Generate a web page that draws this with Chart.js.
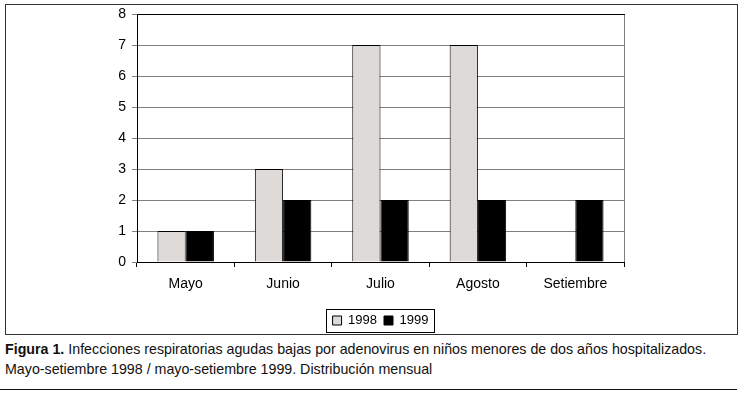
<!DOCTYPE html>
<html>
<head>
<meta charset="utf-8">
<script src="https://cdn.jsdelivr.net/npm/chart.js@4"></script>
<style>
  body { margin: 0; background: #fff; width: 746px; height: 394px; position: relative; overflow: hidden; }
  #marco { position: absolute; left: 5px; top: 4px; width: 731px; height: 329px; border: 1px solid #333; }
  #marco canvas { display: block; }
  #pie { position: absolute; left: 5px; top: 339px; font-family: "Liberation Sans", Arial, sans-serif; font-size: 15px; line-height: 20px; color: #111; white-space: nowrap; transform: scaleX(0.949); transform-origin: 0 0; }
  #linea { position: absolute; left: 0; top: 389px; width: 737px; height: 0; border-top: 1.5px solid #111; }
</style>
</head>
<body>
<div id="marco"><canvas id="grafico" width="731" height="329"></canvas></div>
<div id="pie"><b>Figura 1.</b> Infecciones respiratorias agudas bajas por adenovirus en niños menores de dos años hospitalizados.<br>Mayo-setiembre 1998 / mayo-setiembre 1999. Distribución mensual</div>
<div id="linea"></div>
<script>
// Datos
const meses = ['Mayo', 'Junio', 'Julio', 'Agosto', 'Setiembre'];
const casos1998 = [1, 3, 7, 7, 0];
const casos1999 = [1, 2, 2, 2, 2];

// borde derecho/superior del area y recuadro de la leyenda
const marcos = {
    id: 'marcos',
    afterDraw(chart) {
        const ctx = chart.ctx;
        const a = chart.chartArea;
        ctx.save();
        ctx.lineWidth = 1;
        ctx.strokeStyle = '#808080';
        ctx.beginPath();
        ctx.moveTo(a.right + 0.5, a.top);
        ctx.lineTo(a.right + 0.5, a.bottom);
        ctx.stroke();
        ctx.strokeStyle = '#000';
        ctx.beginPath();
        ctx.moveTo(a.left, a.top + 0.5);
        ctx.lineTo(a.right + 1, a.top + 0.5);
        ctx.stroke();
        const cajas = chart.legend.legendHitBoxes;
        const izq = cajas[0].left - 7;
        const der = cajas[cajas.length - 1].left + cajas[cajas.length - 1].width + 5;
        const cy = cajas[0].top + cajas[0].height / 2;
        ctx.strokeRect(Math.round(izq) + 0.5, Math.round(cy - 12) + 0.5, Math.round(der - izq), 23);
        ctx.restore();
    }
};

const fuente = { family: 'Liberation Sans, Arial', size: 14 };

new Chart(document.getElementById('grafico'), {
    type: 'bar',
    data: {
        labels: meses,
        datasets: [{
            label: '1998',
            data: casos1998,
            backgroundColor: '#dddad8',
            borderColor: '#000',
            borderWidth: 1,
            categoryPercentage: 0.58,
            barPercentage: 1.0
        }, {
            label: '1999',
            data: casos1999,
            backgroundColor: '#000',
            borderColor: '#000',
            borderWidth: 1,
            categoryPercentage: 0.58,
            barPercentage: 1.0
        }]
    },
    options: {
        responsive: false,
        animation: false,
        layout: { padding: { top: 9, right: 113, bottom: -3, left: 0 } },
        plugins: {
            legend: {
                position: 'bottom',
                fullSize: false,
                labels: {
                    color: '#000',
                    font: { family: 'Liberation Sans, Arial', size: 13, lineHeight: 1 },
                    boxWidth: 9,
                    boxHeight: 9,
                    padding: 7
                }
            },
            tooltip: { enabled: false }
        },
        scales: {
            x: {
                afterFit: s => { s.height = 45; },
                grid: { offset: true, drawOnChartArea: false, color: '#000', tickLength: 5 },
                border: { color: '#000' },
                ticks: { color: '#000', padding: 9, font: fuente }
            },
            y: {
                min: 0,
                max: 8,
                afterFit: s => { s.width = 131; s.paddingTop = 0; s.paddingBottom = 0; },
                grid: { color: '#808080', tickLength: 5 },
                border: { color: '#000' },
                ticks: { stepSize: 1, color: '#000', padding: 6, font: fuente }
            }
        }
    },
    plugins: [marcos]
});
</script>
</body>
</html>
